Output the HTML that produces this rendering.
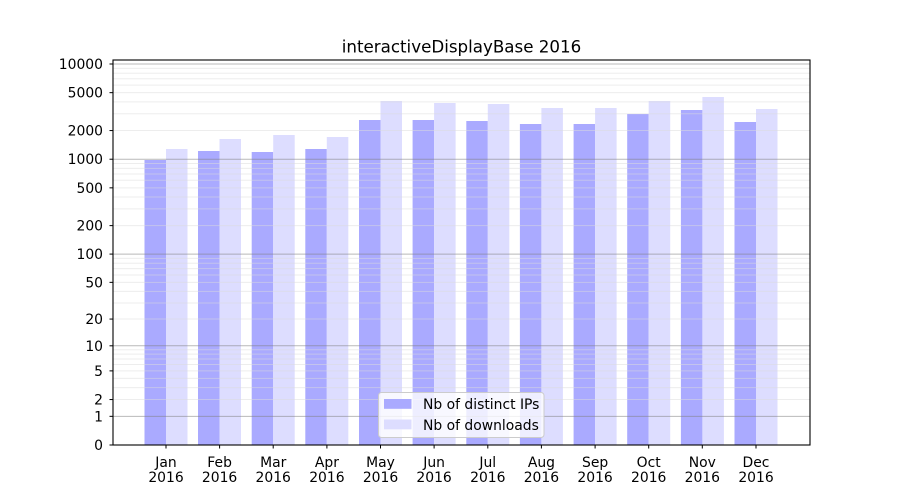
<!DOCTYPE html>
<html><head><meta charset="utf-8"><style>
html,body{margin:0;padding:0;background:#fff;}
svg{display:block;}
text{font-family:"DejaVu Sans","Liberation Sans",sans-serif;fill:#000;}
</style></head><body>
<svg width="900" height="500" viewBox="0 0 900 500" xmlns="http://www.w3.org/2000/svg">
<rect width="900" height="500" fill="#fff"/>
<!-- bars -->
<g>
<rect x="144.5" y="160" width="21.5" height="285" fill="#aaaaff"/>
<rect x="166" y="149" width="21.5" height="296" fill="#ddddff"/>
<rect x="198" y="151" width="21.5" height="294" fill="#aaaaff"/>
<rect x="219.5" y="139" width="21.5" height="306" fill="#ddddff"/>
<rect x="251.7" y="152" width="21.5" height="293" fill="#aaaaff"/>
<rect x="273.2" y="135" width="21.5" height="310" fill="#ddddff"/>
<rect x="305.3" y="149" width="21.5" height="296" fill="#aaaaff"/>
<rect x="326.8" y="137" width="21.5" height="308" fill="#ddddff"/>
<rect x="359" y="120" width="21.5" height="325" fill="#aaaaff"/>
<rect x="380.5" y="101" width="21.5" height="344" fill="#ddddff"/>
<rect x="412.6" y="120" width="21.5" height="325" fill="#aaaaff"/>
<rect x="434.1" y="103" width="21.5" height="342" fill="#ddddff"/>
<rect x="466.3" y="121" width="21.5" height="324" fill="#aaaaff"/>
<rect x="487.8" y="104" width="21.5" height="341" fill="#ddddff"/>
<rect x="519.9" y="124" width="21.5" height="321" fill="#aaaaff"/>
<rect x="541.4" y="108" width="21.5" height="337" fill="#ddddff"/>
<rect x="573.6" y="124" width="21.5" height="321" fill="#aaaaff"/>
<rect x="595.1" y="108" width="21.5" height="337" fill="#ddddff"/>
<rect x="627.2" y="114" width="21.5" height="331" fill="#aaaaff"/>
<rect x="648.7" y="101" width="21.5" height="344" fill="#ddddff"/>
<rect x="680.9" y="110" width="21.5" height="335" fill="#aaaaff"/>
<rect x="702.4" y="97" width="21.5" height="348" fill="#ddddff"/>
<rect x="734.5" y="122" width="21.5" height="323" fill="#aaaaff"/>
<rect x="756" y="109" width="21.5" height="336" fill="#ddddff"/>
</g>
<!-- minor grid -->
<g stroke="#dcdcdc" stroke-opacity="0.5" stroke-width="1">
<line x1="113" x2="810" y1="399.55" y2="399.55"/>
<line x1="113" x2="810" y1="387.65" y2="387.65"/>
<line x1="113" x2="810" y1="378.42" y2="378.42"/>
<line x1="113" x2="810" y1="370.88" y2="370.88"/>
<line x1="113" x2="810" y1="364.5" y2="364.5"/>
<line x1="113" x2="810" y1="358.98" y2="358.98"/>
<line x1="113" x2="810" y1="354.11" y2="354.11"/>
<line x1="113" x2="810" y1="349.75" y2="349.75"/>
<line x1="113" x2="810" y1="319.06" y2="319.06"/>
<line x1="113" x2="810" y1="302.95" y2="302.95"/>
<line x1="113" x2="810" y1="291.38" y2="291.38"/>
<line x1="113" x2="810" y1="282.35" y2="282.35"/>
<line x1="113" x2="810" y1="274.95" y2="274.95"/>
<line x1="113" x2="810" y1="268.67" y2="268.67"/>
<line x1="113" x2="810" y1="263.22" y2="263.22"/>
<line x1="113" x2="810" y1="258.4" y2="258.4"/>
<line x1="113" x2="810" y1="225.62" y2="225.62"/>
<line x1="113" x2="810" y1="208.91" y2="208.91"/>
<line x1="113" x2="810" y1="197.05" y2="197.05"/>
<line x1="113" x2="810" y1="187.84" y2="187.84"/>
<line x1="113" x2="810" y1="180.31" y2="180.31"/>
<line x1="113" x2="810" y1="173.95" y2="173.95"/>
<line x1="113" x2="810" y1="168.43" y2="168.43"/>
<line x1="113" x2="810" y1="163.56" y2="163.56"/>
<line x1="113" x2="810" y1="130.56" y2="130.56"/>
<line x1="113" x2="810" y1="113.79" y2="113.79"/>
<line x1="113" x2="810" y1="101.89" y2="101.89"/>
<line x1="113" x2="810" y1="92.66" y2="92.66"/>
<line x1="113" x2="810" y1="85.12" y2="85.12"/>
<line x1="113" x2="810" y1="78.75" y2="78.75"/>
<line x1="113" x2="810" y1="73.23" y2="73.23"/>
<line x1="113" x2="810" y1="68.35" y2="68.35"/>
</g>
<!-- major grid -->
<g stroke="#808080" stroke-opacity="0.55" stroke-width="1">
<line x1="113" x2="810" y1="416.33" y2="416.33"/>
<line x1="113" x2="810" y1="345.81" y2="345.81"/>
<line x1="113" x2="810" y1="254.09" y2="254.09"/>
<line x1="113" x2="810" y1="159.21" y2="159.21"/>
<line x1="113" x2="810" y1="64" y2="64"/>
</g>
<!-- axes frame -->
<rect x="113" y="60" width="697" height="385" fill="none" stroke="#000" stroke-width="1.1"/>
<!-- y ticks -->
<g stroke="#000" stroke-width="1">
<line x1="109.5" x2="113" y1="445" y2="445"/>
<line x1="109.5" x2="113" y1="416.33" y2="416.33"/>
<line x1="109.5" x2="113" y1="399.55" y2="399.55"/>
<line x1="109.5" x2="113" y1="370.88" y2="370.88"/>
<line x1="109.5" x2="113" y1="345.81" y2="345.81"/>
<line x1="109.5" x2="113" y1="319.06" y2="319.06"/>
<line x1="109.5" x2="113" y1="282.35" y2="282.35"/>
<line x1="109.5" x2="113" y1="254.09" y2="254.09"/>
<line x1="109.5" x2="113" y1="225.62" y2="225.62"/>
<line x1="109.5" x2="113" y1="187.84" y2="187.84"/>
<line x1="109.5" x2="113" y1="159.21" y2="159.21"/>
<line x1="109.5" x2="113" y1="130.56" y2="130.56"/>
<line x1="109.5" x2="113" y1="92.66" y2="92.66"/>
<line x1="109.5" x2="113" y1="64" y2="64"/>
</g>
<g font-size="13.9" text-anchor="end">
<text x="103" y="450">0</text>
<text x="103" y="421.3">1</text>
<text x="103" y="404.5">2</text>
<text x="103" y="375.9">5</text>
<text x="103" y="350.8">10</text>
<text x="103" y="324">20</text>
<text x="103" y="287.3">50</text>
<text x="103" y="259">100</text>
<text x="103" y="230.6">200</text>
<text x="103" y="192.8">500</text>
<text x="103" y="164.2">1000</text>
<text x="103" y="135.5">2000</text>
<text x="103" y="97.6">5000</text>
<text x="103" y="69">10000</text>
</g>
<!-- x ticks -->
<g stroke="#000" stroke-width="1">
<line x1="166" x2="166" y1="445" y2="448.5"/>
<line x1="219.6" x2="219.6" y1="445" y2="448.5"/>
<line x1="273.2" x2="273.2" y1="445" y2="448.5"/>
<line x1="326.9" x2="326.9" y1="445" y2="448.5"/>
<line x1="380.5" x2="380.5" y1="445" y2="448.5"/>
<line x1="434.1" x2="434.1" y1="445" y2="448.5"/>
<line x1="487.8" x2="487.8" y1="445" y2="448.5"/>
<line x1="541.4" x2="541.4" y1="445" y2="448.5"/>
<line x1="595.1" x2="595.1" y1="445" y2="448.5"/>
<line x1="648.7" x2="648.7" y1="445" y2="448.5"/>
<line x1="702.3" x2="702.3" y1="445" y2="448.5"/>
<line x1="756" x2="756" y1="445" y2="448.5"/>
</g>
<g font-size="13.9" text-anchor="middle">
<text x="166" y="467">Jan</text><text x="166" y="482">2016</text>
<text x="219.6" y="467">Feb</text><text x="219.6" y="482">2016</text>
<text x="273.2" y="467">Mar</text><text x="273.2" y="482">2016</text>
<text x="326.9" y="467">Apr</text><text x="326.9" y="482">2016</text>
<text x="380.5" y="467">May</text><text x="380.5" y="482">2016</text>
<text x="434.1" y="467">Jun</text><text x="434.1" y="482">2016</text>
<text x="487.8" y="467">Jul</text><text x="487.8" y="482">2016</text>
<text x="541.4" y="467">Aug</text><text x="541.4" y="482">2016</text>
<text x="595.1" y="467">Sep</text><text x="595.1" y="482">2016</text>
<text x="648.7" y="467">Oct</text><text x="648.7" y="482">2016</text>
<text x="702.3" y="467">Nov</text><text x="702.3" y="482">2016</text>
<text x="756" y="467">Dec</text><text x="756" y="482">2016</text>
</g>
<!-- title -->
<text x="461.5" y="52.5" font-size="16.7" text-anchor="middle">interactiveDisplayBase 2016</text>
<!-- legend -->
<rect x="378.5" y="392.5" width="165.5" height="45" rx="3" ry="3" fill="#fff" fill-opacity="0.8" stroke="#cccccc" stroke-width="1"/>
<rect x="384" y="399" width="27.5" height="9.8" fill="#aaaaff"/>
<rect x="384" y="419.5" width="27.5" height="9.8" fill="#ddddff"/>
<g font-size="13.9">
<text x="423" y="409">Nb of distinct IPs</text>
<text x="423" y="430">Nb of downloads</text>
</g>
</svg>
</body></html>
